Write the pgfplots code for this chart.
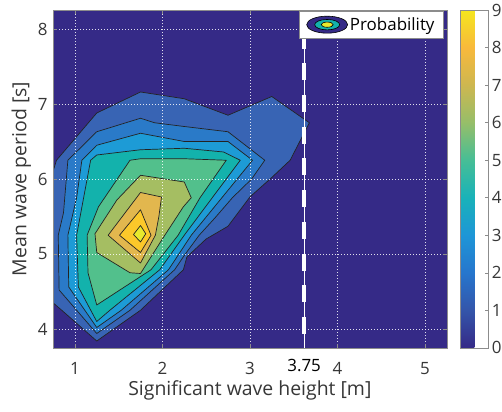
\documentclass[border=0pt]{standalone}
\usepackage{pgfplots}
\pgfplotsset{compat=1.18}
\usepackage{fontspec}
\setmainfont{Open Sans}
\definecolor{c0}{RGB}{53,42,135}
\definecolor{c1}{RGB}{56,100,180}
\definecolor{c2}{RGB}{42,122,200}
\definecolor{c3}{RGB}{29,155,214}
\definecolor{c4}{RGB}{19,178,172}
\definecolor{c5}{RGB}{82,192,140}
\definecolor{c6}{RGB}{165,190,98}
\definecolor{c7}{RGB}{226,183,78}
\definecolor{c8}{RGB}{252,200,42}
\definecolor{c9}{RGB}{232,234,45}
\definecolor{lc}{RGB}{35,35,35}
\definecolor{txt}{RGB}{55,55,55}
\definecolor{frame}{RGB}{140,140,140}
\pgfplotsset{cont/.style={draw=lc, line width=0.7pt, line join=round, forget plot}}
\begin{document}
\begin{tikzpicture}
\begin{axis}[
  scale only axis, width=393.75bp, height=337.5bp,
  xmin=0.75, xmax=5.25, ymin=3.75, ymax=8.25,
  xtick={1,2,3,4,5}, ytick={4,5,6,7,8},
  extra x ticks={3.62}, extra x tick labels={3.75},
  extra x tick style={grid=none, major tick length=0pt, xticklabel style={text=black, yshift=3bp}},
  axis background/.style={fill=c0},
  axis on top,
  clip mode=individual,
  xmajorgrids, ymajorgrids,
  grid style={white, line width=0.7pt, dash pattern=on 0.9bp off 2.1bp, opacity=0.85},
  axis line style={draw=frame, line width=0.5pt},
  tick style={draw=frame, line width=0.5pt},
  tick align=inside, major tick length=4bp,
  /pgf/number format/assume math mode=true,
  ticklabel style={font=\fontsize{17}{20}\selectfont, text=txt},
  xticklabel shift=11bp,
  yticklabel shift=2bp,
  xlabel={Significant wave height [m]},
  ylabel={Mean wave period [s]},
  label style={font=\fontsize{19.5}{22}\selectfont, text=txt},
  xlabel style={at={(rel axis cs:0.5,0)}, anchor=north, inner sep=0pt, yshift=-33bp},
  colormap={parulalike}{rgb255=(53,42,135) rgb255=(52,85,170) rgb255=(38,118,205) rgb255=(30,150,215) rgb255=(25,178,185) rgb255=(70,190,150) rgb255=(150,190,105) rgb255=(205,183,80) rgb255=(248,185,60) rgb255=(245,230,30)},
  point meta min=0, point meta max=9,
  colorbar,
  colorbar style={
    scale only axis, width=28bp, height=337.5bp,
    at={(parent axis.north east)}, anchor=north west, xshift=5bp,
    ytick={0,1,2,3,4,5,6,7,8,9},
    ytick pos=right, yticklabel pos=right,
    tick align=inside, major tick length=3bp,
    axis line style={draw=frame, line width=0.5pt},
    tick style={draw=frame, line width=0.5pt},
    /pgf/number format/assume math mode=true,
    yticklabel style={font=\fontsize{17}{20}\selectfont, text=txt},
  },
  legend style={at={(rel axis cs:1,1)}, anchor=north east, xshift=-3bp, yshift=-1bp,
    draw=frame, fill=white, line width=0.5pt, inner xsep=7bp, inner ysep=4bp,
    font=\fontsize{17}{20}\selectfont, text=black},
]
% contour bands, outermost first
\addplot[cont, fill=c1] coordinates {(0.5,6.10) (0.75,6.10) (0.79,6.25) (1.25,6.88) (1.75,7.16) (2.25,7.07) (2.75,6.85) (3.25,7.10) (3.68,6.75) (3.46,6.25) (3.25,6.02) (3.00,5.76) (2.75,5.37) (2.50,5.20) (2.28,4.96) (2.24,4.79) (1.75,4.25) (1.25,3.84) (0.85,4.25) (0.75,4.35) (0.5,4.35)} -- cycle;
\addplot[cont, fill=c2] coordinates {(0.92,6.25) (1.25,6.63) (1.75,6.81) (1.91,6.75) (2.25,6.70) (2.75,6.63) (3.17,6.25) (3.02,6.00) (2.80,5.75) (2.60,5.48) (2.42,5.25) (2.25,4.98) (2.14,4.79) (1.63,4.25) (1.25,3.94) (0.82,4.52) (0.81,5.25) (0.87,5.55)} -- cycle;
\addplot[cont, fill=c3] coordinates {(1.08,6.25) (1.25,6.45) (1.75,6.61) (2.25,6.50) (2.75,6.50) (3.03,6.25) (2.68,5.75) (2.33,5.25) (2.07,4.79) (1.53,4.25) (1.25,4.02) (0.93,4.56) (0.92,5.25) (1.02,5.75)} -- cycle;
\addplot[cont, fill=c4] coordinates {(1.18,6.25) (1.25,6.32) (1.75,6.39) (2.25,6.41) (2.70,6.36) (2.89,6.25) (2.57,5.75) (2.25,5.25) (1.97,4.79) (1.40,4.25) (1.25,4.10) (1.04,4.56) (1.02,5.25) (1.10,5.75)} -- cycle;
\addplot[cont, fill=c5] coordinates {(1.63,6.25) (1.75,6.27) (2.25,6.27) (2.73,6.25) (2.43,5.75) (2.18,5.25) (1.87,4.79) (1.25,4.32) (1.15,4.75) (1.14,5.25) (1.27,5.63)} -- cycle;
\addplot[cont, fill=c6] coordinates {(1.23,5.27) (1.48,5.72) (1.75,6.05) (2.25,5.96) (2.33,5.75) (2.24,5.63) (2.00,5.20) (1.75,4.74) (1.63,4.75) (1.25,5.02)} -- cycle;
\addplot[cont, fill=c7] coordinates {(1.38,5.25) (1.75,5.82) (1.99,5.76) (1.96,5.50) (1.92,5.25) (1.75,4.88)} -- cycle;
\addplot[cont, fill=c8] coordinates {(1.51,5.25) (1.75,5.59) (1.87,5.25) (1.75,5.02)} -- cycle;
\addplot[cont, fill=c9] coordinates {(1.67,5.26) (1.75,5.38) (1.81,5.27) (1.75,5.16)} -- cycle;
% threshold line
\addplot[white, line width=1bp, forget plot] coordinates {(3.62,3.75) (3.62,8.25)};
\addplot[white, line width=4bp, dash pattern=on 17bp off 14.7bp, dash phase=10.35bp, forget plot] coordinates {(3.62,8.25) (3.62,3.75)};
\addlegendimage{legend image code/.code={
  \filldraw[fill=c0, draw=black, line width=0.6pt] (20.5bp,0bp) ellipse [x radius=20.5bp, y radius=8.5bp];
  \filldraw[fill=c4, draw=black, line width=0.6pt] (20.5bp,0bp) ellipse [x radius=12.5bp, y radius=5.2bp];
  \filldraw[fill=c9, draw=black, line width=0.6pt] (20.5bp,0bp) ellipse [x radius=6bp, y radius=2.6bp];
}}
\addlegendentry{Probability}
\coordinate (SW) at (rel axis cs:0,0);
\end{axis}
\pgfresetboundingbox
\path (SW) ++(-53bp,-64.25bp) rectangle ++(502bp,412bp);
\end{tikzpicture}
\end{document}
